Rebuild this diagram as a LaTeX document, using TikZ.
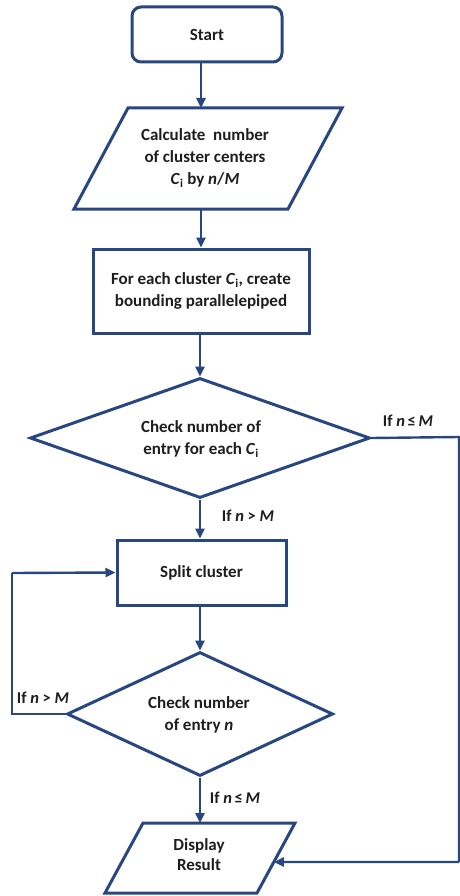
\documentclass[tikz,border=0pt]{standalone}
\usepackage{fontspec}
\setmainfont{Carlito}
\usetikzlibrary{arrows.meta,shapes.geometric,calc}
\definecolor{bl}{RGB}{40,70,128}
\definecolor{txtc}{RGB}{30,30,30}
\begin{document}
\begin{tikzpicture}[x=1pt,y=-1pt,
  line/.style={draw=bl,line width=3pt,line join=miter},
  arr/.style={draw=bl,line width=2.4pt,-{Triangle[length=10pt,width=9pt]}},
  conn/.style={draw=bl,line width=2.4pt},
  txt/.style={font=\fontsize{17}{22}\selectfont\bfseries,text=txtc,align=center,inner sep=0pt},
  lbl/.style={font=\fontsize{16.5}{18}\selectfont\bfseries,text=txtc,inner sep=0pt}]
\useasboundingbox (0,0) rectangle (460,896);
\coordinate (col) at (201,0);
% Start
\node[line,rounded corners=9pt,minimum width=150pt,minimum height=55pt,txt] (start) at (207,34.5) {Start};
% Parallelogram 1
\coordinate (p1tl) at (128,108);
\coordinate (p1tr) at (342,108);
\coordinate (p1br) at (288,209);
\coordinate (p1bl) at (74,209);
\draw[line] (p1tl) -- (p1tr) -- (p1br) -- (p1bl) -- cycle;
\node[txt] (p1) at (205,158) {Calculate\ \ number\\of cluster centers\\\textit{C}\textsubscript{i} by \textit{n}/\textit{M}};
% Rect 2
\node[line,minimum width=216pt,minimum height=84pt,txt] (r2) at (201,291) {For each cluster \textit{C}\textsubscript{i}, create\\bounding parallelepiped};
% Diamond 1
\node[line,diamond,shape aspect=2.8,minimum width=340pt,minimum height=120pt,inner sep=0pt] (d1) at (200,438) {};
\node[txt] (d1t) at (201,439) {Check number of\\entry for each \textit{C}\textsubscript{i}};
% Split
\node[line,minimum width=169pt,minimum height=65pt,txt] (r3) at (201.5,572.5) {Split cluster};
% Diamond 2
\node[line,diamond,shape aspect=2.2,minimum width=266pt,minimum height=124pt,inner sep=0pt] (d2) at (200,714) {};
\node[txt] (d2t) at (199,715) {Check number\\of entry \textit{n}};
% Parallelogram 2
\coordinate (p2tl) at (143,823);
\coordinate (p2tr) at (295,823);
\coordinate (p2br) at (257,893);
\coordinate (p2bl) at (105,893);
\draw[line] (p2tl) -- (p2tr) -- (p2br) -- (p2bl) -- cycle;
\node[txt,font=\fontsize{17}{20}\selectfont\bfseries] (p2) at (199,855) {Display\\Result};
% connectors
\draw[arr] (start.south -| col) -- (col |- p1tl);
\draw[arr] (col |- p1bl) -- (col |- r2.north);
\draw[arr] (d1.north |- r2.south) -- (d1.north);
\draw[arr] (d1.south) -- (d1.south |- r3.north);
\draw[arr] (r3.south -| d2.north) -- (d2.north);
\draw[arr] (d2.south) -- (d2.south |- p2tl);
\coordinate (rtop) at (459,437);
\coordinate (rbot) at (459,862);
\coordinate (p2in) at ($(p2tr)!0.557!(p2br)$);
\draw[conn] (d1.east) -- (rtop) -- (rbot);
\draw[arr] (rbot) -- (p2in);
\coordinate (ltop) at (12,573);
\coordinate (lbot) at (12,714);
\draw[conn] (d2.west) -- (lbot) -- (ltop);
\draw[arr] (ltop) -- (r3.west);
% labels
\node[lbl] (l1) at (408,421) {If \textit{n}\,≤\,\textit{M}};
\node[lbl] (l2) at (248,516) {If \textit{n} > \textit{M}};
\node[lbl] (l3) at (43,698) {If \textit{n} > \textit{M}};
\node[lbl] (l4) at (235,798) {If \textit{n}\,≤\,\textit{M}};
\end{tikzpicture}
\end{document}
